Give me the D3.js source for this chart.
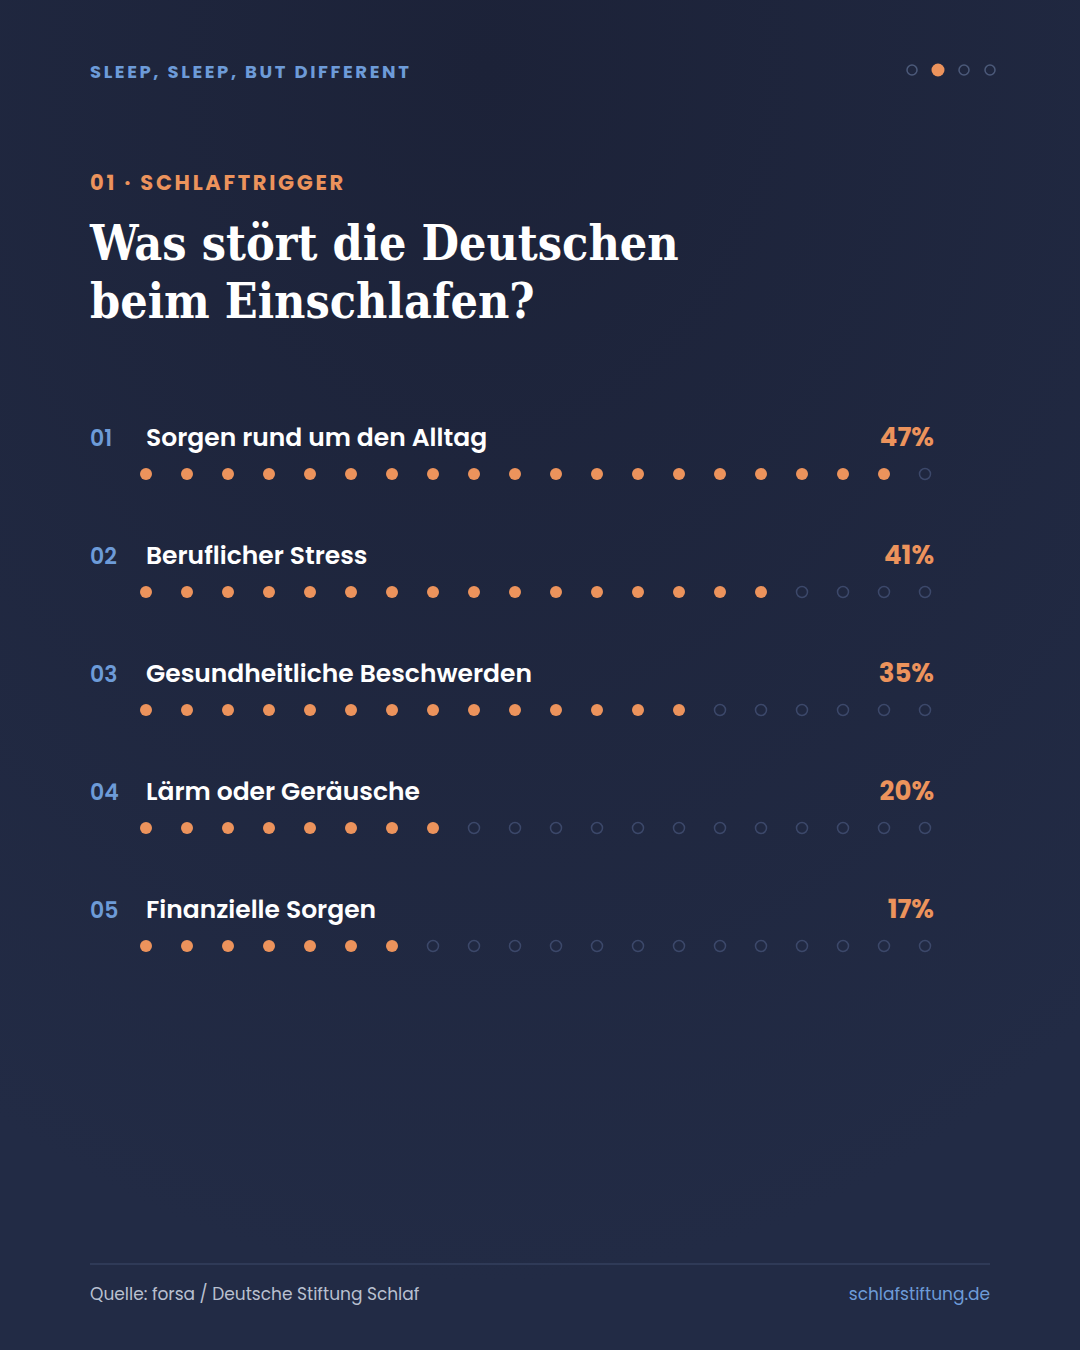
<!DOCTYPE html>
<html><head><meta charset="utf-8">
<script src="https://cdn.jsdelivr.net/npm/d3@7"></script>
<style>
body{margin:0;background:#1f2740;}
svg{display:block;}
</style></head>
<body>
<svg id="chart" width="1080" height="1350"></svg>
<script>
// data
var categories = ["Sorgen rund um den Alltag", "Beruflicher Stress", "Gesundheitliche Beschwerden", "Lärm oder Geräusche", "Finanzielle Sorgen"];
var values = [47, 41, 35, 20, 17];
var ranks = ["01", "02", "03", "04", "05"];
var dotCount = 20;
var perDot = 2.5; // each dot = 2.5 %

var svg = d3.select("#chart");
var sans = "Poppins, Inter, 'Open Sans', sans-serif";

var defs = svg.append("defs");
var grad = defs.append("radialGradient").attr("id", "bg").attr("cx", "0.45").attr("cy", "0.05").attr("r", "0.9");
grad.append("stop").attr("offset", "0").attr("stop-color", "#1c2238");
grad.append("stop").attr("offset", "1").attr("stop-color", "#222b45");
svg.append("rect").attr("width", 1080).attr("height", 1350).attr("fill", "url(#bg)");

// header
svg.append("text").attr("x", 90).attr("y", 78).text("SLEEP, SLEEP, BUT DIFFERENT")
	.attr("fill", "#6d9bd8").attr("font-family", sans).attr("font-weight", 700)
	.attr("font-size", 18).attr("letter-spacing", 2.6);

var pager = [0, 1, 2, 3];
svg.selectAll(".pg").data(pager).enter().append("circle")
	.attr("cx", function(d) { return 912 + d * 26; }).attr("cy", 70).attr("r", function(d) { return d === 1 ? 6.5 : 5; })
	.attr("fill", function(d) { return d === 1 ? "#ec935c" : "none"; })
	.attr("stroke", function(d) { return d === 1 ? "none" : "#4c5a7a"; }).attr("stroke-width", 1.5);

svg.append("text").attr("x", 90).attr("y", 190).text("01 · SCHLAFTRIGGER")
	.attr("fill", "#ec935c").attr("font-family", sans).attr("font-weight", 700)
	.attr("font-size", 21).attr("letter-spacing", 2.7);

var title = ["Was stört die Deutschen", "beim Einschlafen?"];
svg.selectAll(".tt").data(title).enter().append("text")
	.attr("x", 90).attr("y", function(d, i) { return 260 + i * 58; }).text(function(d) { return d; })
	.attr("fill", "#ffffff").attr("font-family", "'DejaVu Serif Condensed', 'DejaVu Serif', serif")
	.attr("font-stretch", "condensed")
	.attr("font-weight", 700).attr("font-size", 48);

// dot scale
var x = d3.scaleLinear().domain([0, dotCount - 1]).range([146, 925]);
var y = d3.scaleBand().domain(categories).range([410, 1000]);

var rows = svg.selectAll(".row").data(categories).enter().append("g")
	.attr("transform", function(d) { return "translate(0," + y(d) + ")"; });

rows.append("text").attr("x", 90).attr("y", 36).text(function(d, i) { return ranks[i]; })
	.attr("fill", "#6d9bd8").attr("font-family", sans).attr("font-weight", 600).attr("font-size", 22);
rows.append("text").attr("x", 146).attr("y", 36).text(function(d) { return d; })
	.attr("fill", "#ffffff").attr("font-family", sans).attr("font-weight", 600).attr("font-size", 25);
rows.append("text").attr("x", 934).attr("y", 36).attr("text-anchor", "end").text(function(d, i) { return values[i] + "%"; })
	.attr("fill", "#ec935c").attr("font-family", sans).attr("font-weight", 700).attr("font-size", 26);

rows.each(function(d, i) {
	var filled = Math.round(values[i] / perDot);
	d3.select(this).selectAll("circle").data(d3.range(dotCount)).enter().append("circle")
		.attr("cx", function(k) { return x(k); }).attr("cy", 64)
		.attr("r", function(k) { return k < filled ? 6 : 5.5; })
		.attr("fill", function(k) { return k < filled ? "#ec935c" : "none"; })
		.attr("stroke", function(k) { return k < filled ? "none" : "#3c486a"; })
		.attr("stroke-width", 1.5);
});

// footer
svg.append("line").attr("x1", 90).attr("x2", 990).attr("y1", 1264).attr("y2", 1264)
	.attr("stroke", "#34405e").attr("stroke-width", 1.5);
svg.append("text").attr("x", 90).attr("y", 1300).text("Quelle: forsa / Deutsche Stiftung Schlaf")
	.attr("fill", "#b9c0d0").attr("font-family", sans).attr("font-size", 17);
svg.append("text").attr("x", 990).attr("y", 1300).attr("text-anchor", "end").text("schlafstiftung.de")
	.attr("fill", "#6d9bd8").attr("font-family", sans).attr("font-size", 17);
</script>
</body></html>
